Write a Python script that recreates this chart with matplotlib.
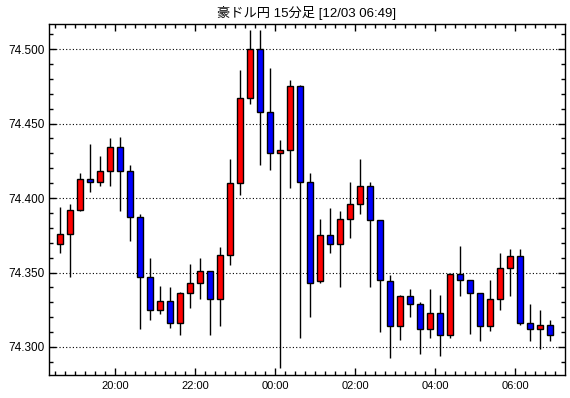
import numpy as np
import pandas as pd
import matplotlib
matplotlib.use("Agg")
import matplotlib.pyplot as plt
import matplotlib.dates as mdates
from matplotlib.ticker import MultipleLocator, FormatStrFormatter

plt.rcParams['font.family'] = ['Liberation Sans', 'Noto Sans CJK JP', 'DejaVu Sans']

# 15 minute candles, AUD/JPY, starting 12/02 18:30
opens = [74.369, 74.376, 74.392, 74.413, 74.411, 74.418, 74.434, 74.418, 74.387, 74.347,
         74.325, 74.331, 74.316, 74.336, 74.343, 74.351, 74.332, 74.362, 74.410, 74.467,
         74.500, 74.458, 74.430, 74.432, 74.475, 74.411, 74.344, 74.375, 74.369, 74.386,
         74.396, 74.408, 74.385, 74.344, 74.314, 74.334, 74.329, 74.312, 74.323, 74.308,
         74.349, 74.345, 74.336, 74.314, 74.332, 74.353, 74.361, 74.316, 74.312, 74.315]
highs = [74.394, 74.396, 74.417, 74.436, 74.428, 74.440, 74.441, 74.422, 74.389, 74.360,
         74.341, 74.340, 74.337, 74.356, 74.360, 74.351, 74.367, 74.426, 74.486, 74.5125,
         74.5125, 74.4875, 74.439, 74.479, 74.476, 74.417, 74.386, 74.3935, 74.3915, 74.411,
         74.426, 74.411, 74.385, 74.348, 74.335, 74.339, 74.330, 74.339, 74.335, 74.349,
         74.368, 74.345, 74.336, 74.345, 74.363, 74.366, 74.366, 74.329, 74.3245, 74.318]
lows = [74.363, 74.347, 74.391, 74.404, 74.408, 74.408, 74.391, 74.371, 74.312, 74.318,
        74.322, 74.313, 74.308, 74.326, 74.332, 74.308, 74.314, 74.355, 74.402, 74.463,
        74.422, 74.419, 74.286, 74.4065, 74.306, 74.320, 74.343, 74.363, 74.3405, 74.373,
        74.3895, 74.340, 74.310, 74.2926, 74.3045, 74.320, 74.2955, 74.306, 74.294, 74.306,
        74.3345, 74.3085, 74.304, 74.311, 74.325, 74.3345, 74.3145, 74.304, 74.2985, 74.304]
closes = [74.376, 74.392, 74.413, 74.411, 74.418, 74.434, 74.418, 74.387, 74.347, 74.325,
          74.331, 74.316, 74.336, 74.343, 74.351, 74.332, 74.362, 74.410, 74.467, 74.500,
          74.458, 74.430, 74.432, 74.475, 74.411, 74.343, 74.375, 74.369, 74.386, 74.396,
          74.408, 74.385, 74.345, 74.314, 74.334, 74.329, 74.312, 74.323, 74.308, 74.349,
          74.345, 74.336, 74.314, 74.332, 74.353, 74.361, 74.316, 74.312, 74.315, 74.308]

title = "豪ドル円 15分足 [12/03 06:49]"

opens = np.array(opens)
highs = np.array(highs)
lows = np.array(lows)
closes = np.array(closes)

times = pd.date_range("2019-12-02 18:30", periods=len(opens), freq="15min")
x = mdates.date2num(times + pd.Timedelta(minutes=7.5))

fig = plt.figure(figsize=(5.7, 3.98), dpi=100)
ax = fig.add_axes([49/570, 1 - 375/398, 516/570, 351/398])

up = closes >= opens
colors = np.where(up, "#ff0000", "#0000ff")
width = 9 / 1440.0

ax.vlines(x, lows, highs, color="black", linewidth=1.0, zorder=2)
ax.bar(x, np.abs(closes - opens), width=width, bottom=np.minimum(opens, closes),
       color=colors, edgecolor="black", linewidth=1.0, zorder=3)

ax.set_xlim(mdates.date2num(pd.Timestamp("2019-12-02 18:20:33")),
            mdates.date2num(pd.Timestamp("2019-12-03 07:14:33")))
ax.set_ylim(74.2812, 74.5168)

ax.xaxis.set_major_locator(mdates.HourLocator(byhour=range(0, 24, 2)))
ax.xaxis.set_minor_locator(mdates.MinuteLocator(byminute=[0, 15, 30, 45]))
ax.xaxis.set_major_formatter(mdates.DateFormatter("%H:%M"))
ax.yaxis.set_major_locator(MultipleLocator(0.05))
ax.yaxis.set_minor_locator(MultipleLocator(0.01))
ax.yaxis.set_major_formatter(FormatStrFormatter("%.3f"))

ax.tick_params(which="both", direction="in", top=True, right=True, colors="black")
ax.tick_params(which="major", length=5, width=1)
ax.tick_params(which="minor", length=3, width=1)
ax.tick_params(axis="x", pad=4, labelsize=8)
ax.tick_params(axis="y", pad=3, labelsize=8.5)

ax.yaxis.grid(True, which="major", color="black", linestyle=(0, (1, 2)), linewidth=0.8)
ax.set_axisbelow(True)
for s in ax.spines.values():
    s.set_linewidth(1.0)

ax.set_title(title, fontsize=9.5, pad=5)

fig.savefig("out.png", dpi=100)
